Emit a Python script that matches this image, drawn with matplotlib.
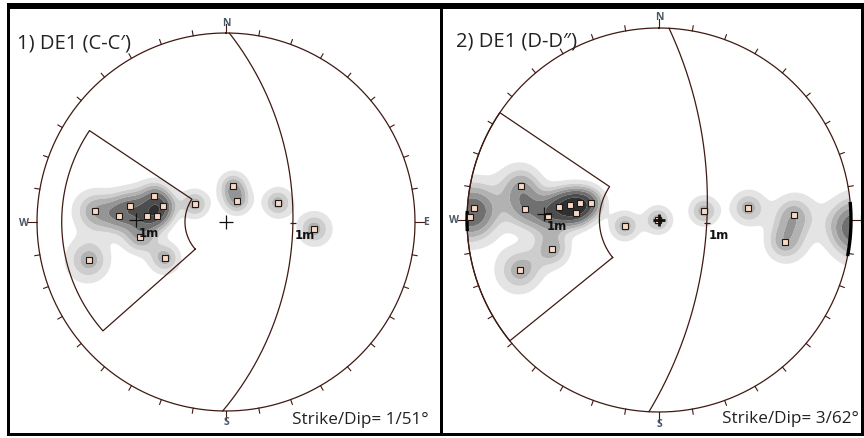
import numpy as np
import matplotlib
matplotlib.use("Agg")
import matplotlib.pyplot as plt
from matplotlib.patches import Circle, Rectangle

plt.rcParams['font.family'] = ['Open Sans', 'DejaVu Sans']

# ---------------------------------------------------------------- data
# Panel 1: DE1 (C-C')
p1_title = "1) DE1 (C-C′)"
p1_strike, p1_dip = 1, 51
p1_pole_trend = [274.8, 279.5, 273.2, 289.9, 284.3, 274.4, 275.0, 260.1,
                 254.5, 239.5, 300.1, 11.0, 27.6, 69.8, 94.5]
p1_pole_plunge = [20.3, 35.5, 30.9, 45.9, 52.0, 44.5, 49.8, 40.4,
                  16.1, 48.9, 68.5, 68.1, 75.8, 57.4, 39.9]
p1_zone_trend = (228.5, 303.8)      # azimuth limits of the critical zone
p1_zone_angle = (24.5, 82.0)        # angular distance from the centre
p1_thick_arcs = []

# Panel 2: DE1 (D-D'')
p2_title = "2) DE1 (D-D″)"
p2_strike, p2_dip = 3, 62
p2_pole_trend = [273.7, 271.0, 283.8, 274.7, 272.1, 277.4, 279.6, 282.2,
                 284.1, 274.8, 254.8, 250.2, 260.0, 270.0, 78.6, 82.3,
                 87.9, 99.9]
p2_pole_plunge = [2.0, 0.8, 17.0, 20.0, 29.9, 34.6, 39.6, 44.4,
                  49.9, 43.1, 30.0, 14.8, 69.6, 89.5, 63.2, 39.8,
                  19.8, 22.7]
p2_zone_trend = (231.0, 304.0)
p2_zone_angle = (34.5, 90.0)
p2_thick_arcs = [(84.6, 100.8), (266.7, 272.7)]

unit_label = "1m"

# ---------------------------------------------------------------- style
W, H, DPI = 864, 439, 100
LINE = '#3e1a12'
LABEL = '#4b5866'
SQ_FACE = '#fbd8c4'
DENS_LEVELS = [0.3, 0.6, 0.85, 1.15, 1.5, 2.0, 2.6, 50]
DENS_COLORS = ['#e4e4e4', '#cdcdcd', '#b2b2b2', '#959595',
               '#707070', '#4d4d4d', '#303030']
KAPPA = 100.0


def proj(trend, plunge):
    """Lower-hemisphere equal-angle (stereographic) projection."""
    t = np.radians(np.asarray(trend, float))
    p = np.radians(np.asarray(plunge, float))
    r = np.tan((np.pi / 2 - p) / 2)
    return r * np.sin(t), r * np.cos(t)


def vec(trend, plunge):
    t = np.radians(np.asarray(trend, float))
    p = np.radians(np.asarray(plunge, float))
    return np.stack([np.cos(p) * np.sin(t), np.cos(p) * np.cos(t), np.sin(p)], -1)


def great_circle(strike, dip):
    s = np.radians(strike)
    d = np.radians(dip)
    sv = np.array([np.sin(s), np.cos(s), 0.0])
    dv = np.array([np.cos(d) * np.sin(s + np.pi / 2),
                   np.cos(d) * np.cos(s + np.pi / 2), np.sin(d)])
    a = np.linspace(0, np.pi, 361)
    v = np.outer(np.cos(a), sv) + np.outer(np.sin(a), dv)
    plunge = np.degrees(np.arcsin(np.clip(v[:, 2], -1, 1)))
    trend = np.degrees(np.arctan2(v[:, 0], v[:, 1]))
    return proj(trend, plunge)


def density(ax, trends, plunges):
    g = np.linspace(-1.02, 1.02, 420)
    X, Y = np.meshgrid(g, g)
    rho = np.hypot(X, Y)
    theta = 2 * np.arctan(rho)
    tr = np.arctan2(X, Y)
    G = np.stack([np.sin(theta) * np.sin(tr), np.sin(theta) * np.cos(tr),
                  np.cos(theta)], -1)
    P = vec(trends, plunges)
    dots = np.abs(G @ P.T)
    Z = np.exp(KAPPA * (dots - 1)).sum(-1)
    cs = ax.contourf(X, Y, Z, levels=DENS_LEVELS, colors=DENS_COLORS,
                     antialiased=True, zorder=1)
    clip = Circle((0, 0), 1.0, transform=ax.transData)
    cs.set_clip_path(clip)


def panel(fig, cx, cy, R, title, title_xy, sd_xy, strike, dip,
          ptr, ppl, ztr, zang, thick_arcs, center_bold):
    L = 1.14
    ax = fig.add_axes([(cx - L * R) / W, (H - cy - L * R) / H,
                       2 * L * R / W, 2 * L * R / H])
    ax.set_xlim(-L, L)
    ax.set_ylim(-L, L)
    ax.axis('off')

    density(ax, ptr, ppl)

    # primitive circle and 10-degree ticks
    a = np.linspace(0, 2 * np.pi, 721)
    ax.plot(np.sin(a), np.cos(a), color=LINE, lw=0.9, zorder=3)
    for az in range(0, 360, 10):
        r = np.radians(az)
        ln = 1.045 if az % 90 == 0 else 1.027
        ax.plot([np.sin(r), ln * np.sin(r)], [np.cos(r), ln * np.cos(r)],
                color=LINE, lw=0.8, zorder=3)
    for az, lab, off in [(0, 'N', 1.058), (180, 'S', 1.058),
                         (270, 'W', 1.068), (90, 'E', 1.058)]:
        r = np.radians(az)
        ax.text(off * np.sin(r), off * np.cos(r), lab, ha='center',
                va='center', fontsize=7.5, color=LABEL, fontweight='bold',
                zorder=4)

    for t0, t1 in thick_arcs:
        aa = np.radians(np.linspace(t0, t1, 60))
        ax.plot(np.sin(aa), np.cos(aa), color='black', lw=2.4,
                solid_capstyle='butt', zorder=4)

    # critical zone outline
    t = np.linspace(ztr[0], ztr[1], 120)
    rin = np.tan(np.radians(zang[0]) / 2)
    rout = np.tan(np.radians(zang[1]) / 2)
    tt = np.radians(np.concatenate([t, t[::-1], t[:1]]))
    rr = np.concatenate([np.full(t.size, rin), np.full(t.size, rout), [rin]])
    ax.plot(rr * np.sin(tt), rr * np.cos(tt), color=LINE, lw=0.9, zorder=3)

    # plane great circle
    gx, gy = great_circle(strike, dip)
    ax.plot(gx, gy, color=LINE, lw=0.9, zorder=3)

    # pole of plane and dip point
    px, py = proj(strike - 90, 90 - dip)
    ax.plot(px, py, marker='+', ms=10, mew=0.9, color='#111111', zorder=6)
    ax.annotate(unit_label, (px, py), xytext=(2, -11), textcoords='offset points',
                fontsize=8.5, fontweight='bold', color='#111111', zorder=6,
                family='DejaVu Sans')
    dx, dy = proj(strike + 90, dip)
    ax.plot(dx, dy, marker='_', ms=5, mew=0.9, color=LINE, zorder=6)
    ax.annotate(unit_label, (dx, dy), xytext=(1, -11), textcoords='offset points',
                fontsize=8.5, fontweight='bold', color='#111111', zorder=6,
                family='DejaVu Sans')

    # measured poles
    sx, sy = proj(ptr, ppl)
    ax.plot(sx, sy, 's', ms=4.8, mfc=SQ_FACE, mec='#1a1a1a', mew=0.8,
            ls='none', zorder=5)

    # centre mark
    if center_bold:
        ax.plot(0, 0, marker='+', ms=9, mew=2.0, color='#111111', zorder=7)
    else:
        ax.plot(0, 0, marker='+', ms=10, mew=0.9, color='#111111', zorder=7)

    fig.text(title_xy[0] / W, 1 - title_xy[1] / H, title, fontsize=14.5,
             color='#222222', ha='left', va='baseline')
    fig.text(sd_xy[0] / W, 1 - sd_xy[1] / H,
             f"Strike/Dip= {strike}/{dip}°", fontsize=12.3,
             color='#222222', ha='right', va='baseline')
    return ax


fig = plt.figure(figsize=(W / DPI, H / DPI), dpi=DPI)
fig.patch.set_facecolor('white')

panel(fig, 226, 223, 189, p1_title, (17, 49), (429, 424), p1_strike, p1_dip,
      p1_pole_trend, p1_pole_plunge, p1_zone_trend, p1_zone_angle,
      p1_thick_arcs, False)
panel(fig, 659, 221, 192, p2_title, (456, 47), (859, 423), p2_strike, p2_dip,
      p2_pole_trend, p2_pole_plunge, p2_zone_trend, p2_zone_angle,
      p2_thick_arcs, True)

# frame around the two panels
over = fig.add_axes([0, 0, 1, 1], zorder=10)
over.set_xlim(0, W)
over.set_ylim(H, 0)
over.axis('off')
over.patch.set_alpha(0)
for x, y, w, h in [(7, 4, 857, 6), (7, 4, 3, 433), (439.5, 4, 3.5, 433),
                   (861, 4, 3, 433), (7, 434, 857, 3)]:
    over.add_patch(Rectangle((x, y), w, h, facecolor='black', edgecolor='none'))

fig.savefig('out.png', dpi=DPI)
